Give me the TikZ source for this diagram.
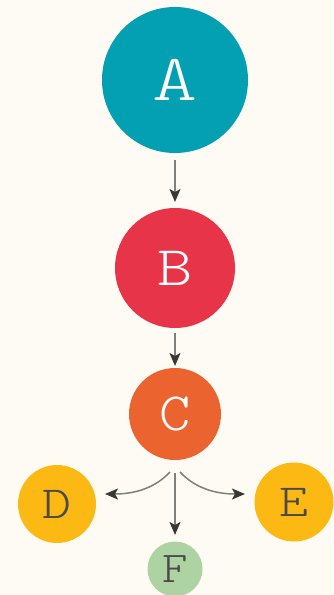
\documentclass[tikz,border=0pt]{standalone}
\usepackage{fontspec}
\newfontfamily\lightmono{Latin Modern Mono Light}
\usetikzlibrary{arrows.meta}
\definecolor{bg}{HTML}{FDFBF3}
\definecolor{cA}{HTML}{02A0B2}
\definecolor{cB}{HTML}{E73448}
\definecolor{cC}{HTML}{EB632E}
\definecolor{cD}{HTML}{FDB913}
\definecolor{cF}{HTML}{AED3A3}
\definecolor{txt}{HTML}{4A4A48}
\definecolor{lin}{HTML}{7F7F7C}
\definecolor{tip}{HTML}{383836}
\tikzset{
  ball/.style={circle, inner sep=0pt},
  conn/.style={draw=lin, line width=1.5pt, -{Stealth[length=13pt,width=11pt,inset=3pt,color=tip]}},
}
\begin{document}
\begin{tikzpicture}[x=1pt,y=-1pt]
\fill[bg] (0,0) rectangle (333,595);
\useasboundingbox (0,0) rectangle (333,595);
\node[ball, fill=cA, minimum size=146pt, text=white, font=\lightmono\fontsize{66}{66}\selectfont] (A) at (175,80) {\scalebox{1.3}[1]{A}};
\node[ball, fill=cB, minimum size=120pt, text=white, font=\lightmono\fontsize{56}{56}\selectfont] (B) at (175,268) {\scalebox{1.2}[1]{B}};
\node[ball, fill=cC, minimum size=92pt, text=white, font=\lightmono\fontsize{54}{54}\selectfont] (C) at (175,414) {\scalebox{1.1}[1]{C}};
\node[ball, fill=cD, minimum size=78pt, text=txt, font=\lightmono\fontsize{46}{46}\selectfont] (D) at (57,504) {\scalebox{1.2}[1]{D}};
\node[ball, fill=cD, minimum size=79pt, text=txt, font=\lightmono\fontsize{46}{46}\selectfont] (E) at (294,502) {\scalebox{1.2}[1]{E}};
\node[ball, fill=cF, minimum size=55pt, text=txt, font=\lightmono\fontsize{44}{44}\selectfont] (F) at (175,569) {\scalebox{1.1}[1]{F}};
\coordinate (a1) at (175,160);
\coordinate (a2) at (175,202);
\coordinate (b1) at (175,333);
\coordinate (b2) at (175,366);
\coordinate (c0) at (175,473);
\coordinate (cl) at (170,472);
\coordinate (cr) at (180,472);
\coordinate (dt) at (105,494);
\coordinate (et) at (245,494);
\coordinate (ft) at (175,535);
\draw[conn] (a1) -- (a2);
\draw[conn] (b1) -- (b2);
\draw[conn] (cl) .. controls (155,488) and (135,494) .. (dt);
\draw[conn] (cr) .. controls (195,488) and (215,494) .. (et);
\draw[conn] (c0) -- (ft);
\end{tikzpicture}
\end{document}
